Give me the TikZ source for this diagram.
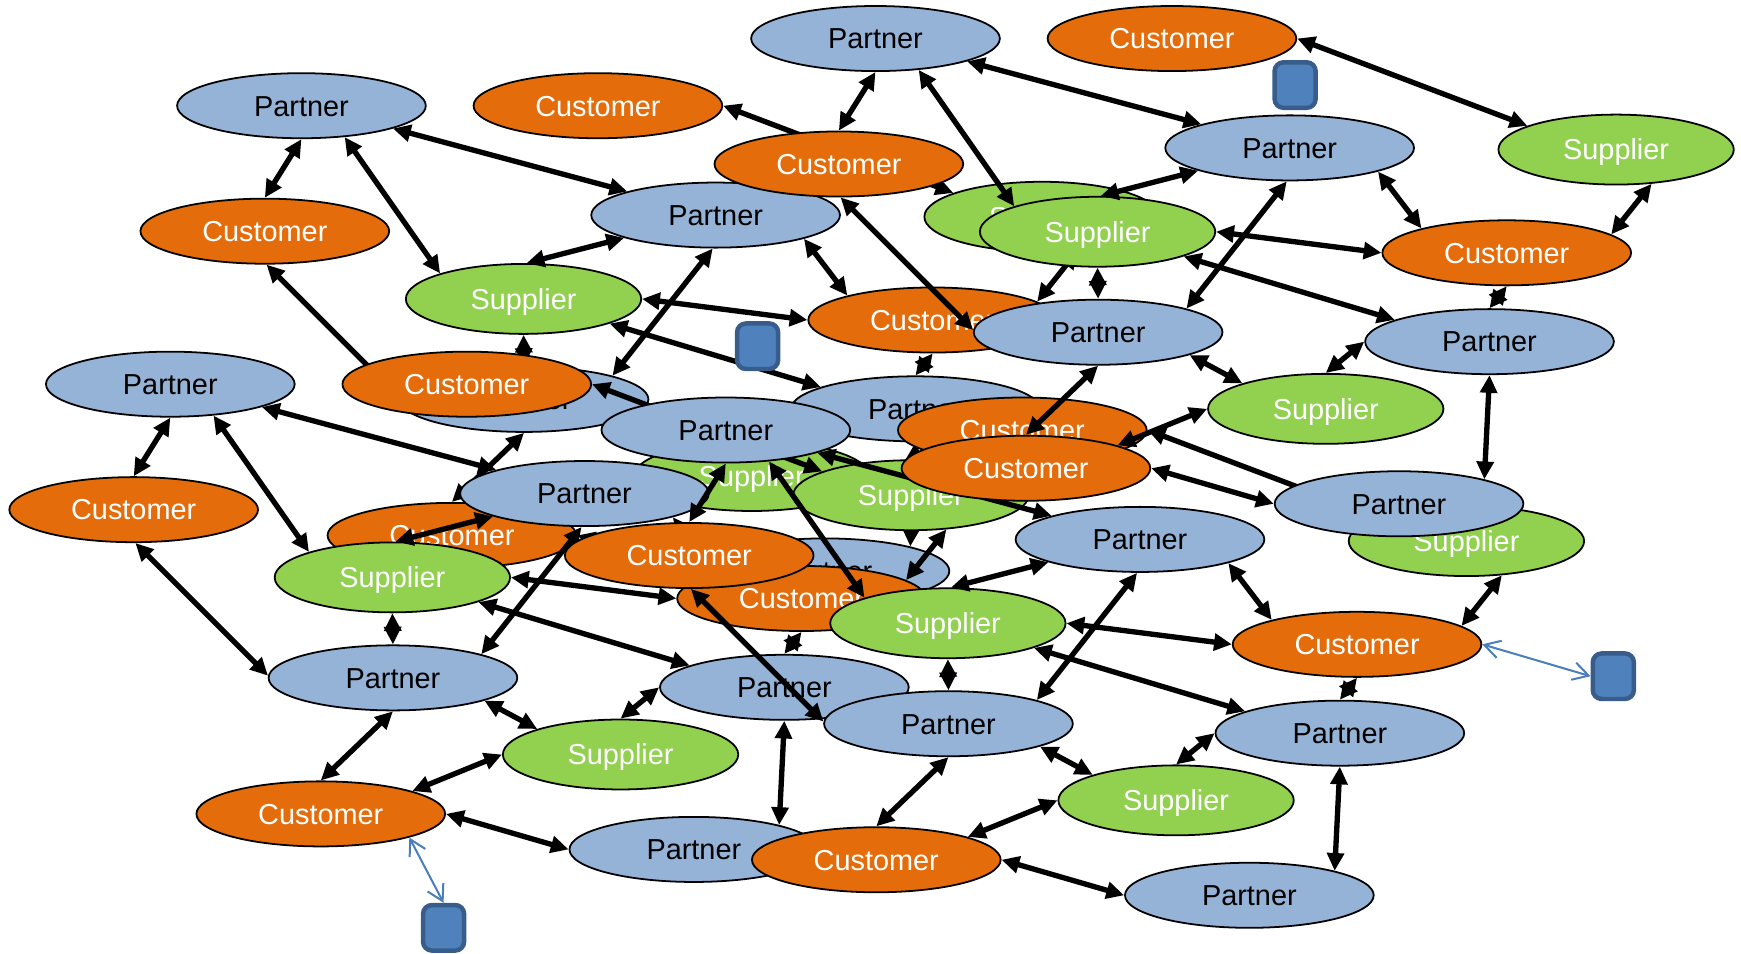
\documentclass[tikz,border=0pt]{standalone}
\usepackage{fontspec}
\setmainfont{Liberation Sans}
\usepackage{tikz}
\usetikzlibrary{positioning,shapes,arrows.meta}
\definecolor{partnerblue}{HTML}{95B3D7}
\definecolor{custorange}{HTML}{E46C0A}
\definecolor{suppgreen}{HTML}{92D050}
\definecolor{tagblue}{HTML}{4F81BD}
\definecolor{tagedge}{HTML}{385D8A}
\definecolor{hintblue}{HTML}{4A7EBB}
\tikzstyle{partner}=[%
      ellipse, draw=black, line width=0.8pt, fill=partnerblue, text=black,
      minimum width=112pt, minimum height=29.3pt, inner sep=0pt,
      text height=9.3pt, text depth=0pt,
      font=\fontsize{13}{15}\selectfont
]
\tikzstyle{customer}=[partner, fill=custorange, text=white]
\tikzstyle{supplier}=[partner, fill=suppgreen, text=white,
      minimum width=106pt, minimum height=31.5pt
]
\tikzstyle{tag}=[%
      rectangle, rounded corners=4pt, draw=tagedge, line width=2pt, fill=tagblue,
      minimum width=18.5pt, minimum height=20.5pt, inner sep=0pt
]
\tikzstyle{link}=[line width=2.4pt, {Triangle[length=8pt,width=7.5pt]}-{Triangle[length=8pt,width=7.5pt]}]
\tikzstyle{hint}=[line width=0.9pt, color=hintblue, {Straight Barb[length=7pt,width=8pt]}-{Straight Barb[length=7pt,width=8pt]}]

% one copy of the network, placed by its top-left partner
\newcommand{\motif}[3]{%
  \begin{scope}[shift={(#2,#3)}]
    \node[partner]  (pa#1) at (0,0)         {Partner};
    \node[customer] (cb#1) at (-33,113)     {Customer};
    \node[supplier] (sc#1) at (200,174)     {Supplier};
    \node[partner]  (pd#1) at (373,98.5)    {Partner};
    \node[partner]  (pe#1) at (200.5,264.5) {Partner};
    \node[customer] (cf#1) at (568.5,193)   {Customer};
    \node[partner]  (pg#1) at (553,273)     {Partner};
    \node[customer] (ch#1) at (135.5,387)   {Customer};
    \node[supplier] (si#1) at (405.5,333.5) {Supplier};
    \node[partner]  (pj#1) at (471.5,419)   {Partner};
    \node[customer] (ck#1) at (267,0)       {Customer};
    \node[supplier] (sl#1) at (667,100)     {Supplier};

    \path[link] (pa#1.south) edge (cb#1.north)
          (pa#1.-36) edge (sc#1.163)
          (pa#1.-14) edge (pd#1.165)
          (pd#1.-166) edge (sc#1.85)
          (pd#1.-15) edge (cf#1.164)
          (pd#1.-95) edge (pe#1.15)
          (sc#1.east) edge (cf#1.west)
          (sc#1.south) edge (pe#1.north)
          (sc#1.-16) edge (pg#1.167)
          (cb#1.-87) edge (pe#1.179)
          (pe#1.south) edge (ch#1.north)
          (pe#1.-14) edge (si#1.163)
          (ch#1.14) edge (si#1.west)
          (ch#1.east) edge (pj#1.west)
          (pg#1.west) edge (si#1.north)
          (pg#1.south) edge (pj#1.16)
          (cf#1.south) edge (pg#1.north)
          (ck#1.east) edge (sl#1.165)
          (sl#1.-44) edge (cf#1.10)
    ;
  \end{scope}}

\begin{document}
\begin{tikzpicture}[x=0.5pt, y=-0.5pt]
    \useasboundingbox (0,0) rectangle (1568,859);

    \motif{1}{271.5}{95.2}
    \motif{2}{153.4}{346}
    \motif{3}{653.7}{387.3}
    \motif{4}{788.5}{34.7}

    \node[tag] (q1) at (682.3,311.8) {};
    \node[tag] (q2) at (1166.4,76.6) {};
    \node[tag] (q3) at (1453,609)    {};
    \node[tag] (q4) at (399.5,835.6) {};

    \path[hint] (cf3.east) edge (q3.west)
          (ch2.south east) edge (q4.north)
    ;
\end{tikzpicture}
\end{document}
